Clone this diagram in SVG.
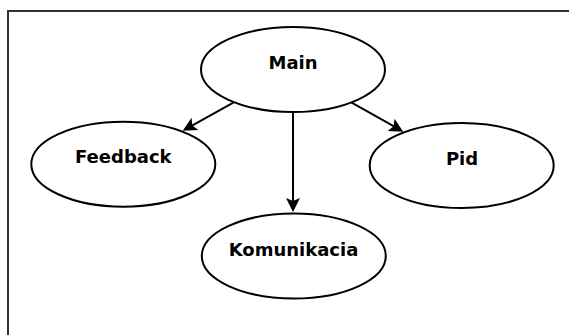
<svg xmlns="http://www.w3.org/2000/svg" width="569" height="335" viewBox="0 0 569 335">
<defs>
<style>
.node ellipse{fill:#ffffff;stroke:#000000;stroke-width:2}
.node text{font-family:"DejaVu Sans",sans-serif;font-weight:bold;font-size:18px;fill:#000000;text-anchor:middle}
.edge{stroke:#000000;stroke-width:2;fill:none;marker-end:url(#arrow)}
</style>
<marker id="arrow" viewBox="0 0 16 16" markerWidth="16" markerHeight="16" refX="11" refY="8" orient="auto" markerUnits="userSpaceOnUse">
<path d="M1,1 L15,8 L1,15 L4,8 Z" fill="#000000"/>
</marker>
</defs>
<rect x="8" y="11" width="600" height="400" fill="#ffffff" stroke="#333333" stroke-width="2"/>
<g id="connectors">
<line class="edge" x1="293" y1="112" x2="293" y2="208"/>
<line class="edge" x1="233.3" y1="102.7" x2="186.2" y2="128.8"/>
<line class="edge" x1="351.7" y1="102.7" x2="399.8" y2="129.7"/>
</g>
<g id="main" class="node">
<ellipse cx="293" cy="69.5" rx="92" ry="42.5"/>
<text x="293" y="69.3">Main</text>
</g>
<g id="feedback" class="node">
<ellipse cx="123.3" cy="164.2" rx="92" ry="42.5"/>
<text x="123.3" y="163.3">Feedback</text>
</g>
<g id="pid" class="node">
<ellipse cx="461.7" cy="165.5" rx="92" ry="42.5"/>
<text x="462" y="165">Pid</text>
</g>
<g id="komunikacia" class="node">
<ellipse cx="293.8" cy="256" rx="92" ry="42.5"/>
<text x="293.5" y="255.7">Komunikacia</text>
</g>
</svg>
